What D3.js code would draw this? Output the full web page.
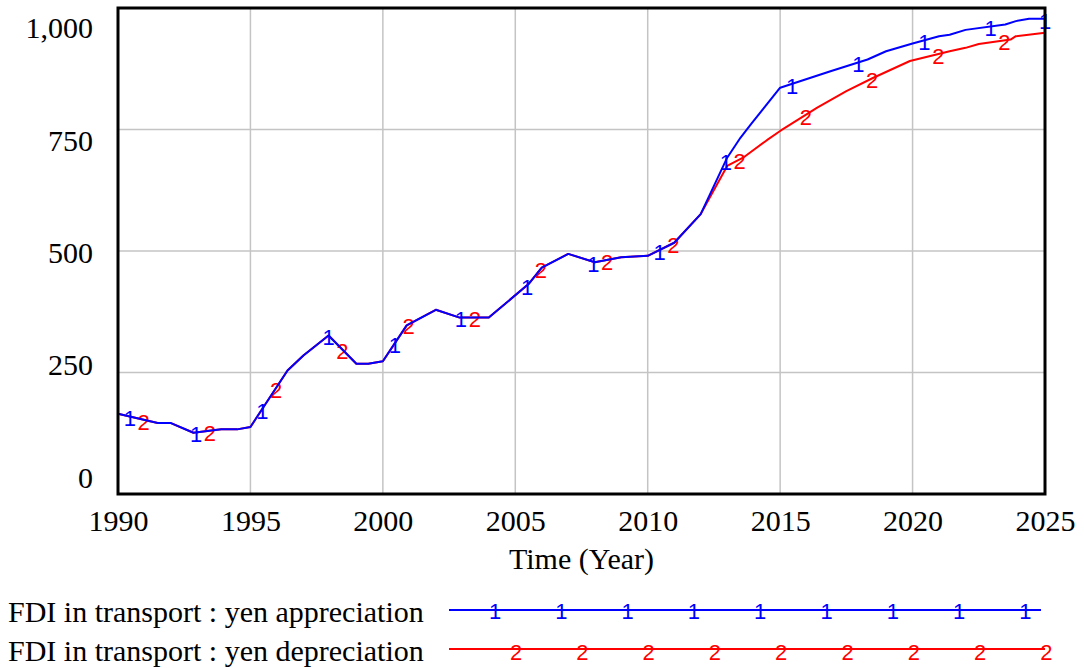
<!DOCTYPE html>
<html>
<head>
<meta charset="utf-8">
<script src="https://cdn.jsdelivr.net/npm/d3@7"></script>
<style>
  html, body { margin: 0; padding: 0; background: #fff; }
  svg { display: block; }
</style>
</head>
<body>
<svg id="chart" width="1084" height="668"></svg>
<script>
// ---- data ----
const yTickValues = [0, 250, 500, 750, 1000];
const xTickValues = [1990, 1995, 2000, 2005, 2010, 2015, 2020, 2025];

const appreciationTime = [1990, 1991.5, 1992, 1992.85, 1993.9, 1994.5, 1995, 1996.4, 1997, 1997.95,
  1999, 1999.45, 2000, 2000.9, 2002, 2002.9, 2004, 2005.5, 2006, 2007,
  2008, 2009, 2010, 2011, 2012, 2013, 2013.5, 2013.9, 2015, 2016.9,
  2018.3, 2019, 2020, 2021, 2021.4, 2022, 2023.5, 2023.9, 2024.4, 2025];
const appreciationValue = [165, 146, 146, 126, 133, 133, 138, 254, 285, 326,
  268, 268, 273, 347, 379, 363, 363, 432, 466, 494,
  477, 487, 490, 517, 576, 692, 733, 761, 836, 870,
  894, 911, 927, 942, 945, 955, 966, 973, 978, 978];

const depreciationTime = [1990, 1991.5, 1992, 1992.85, 1993.9, 1994.5, 1995, 1996.4, 1997, 1997.95,
  1999, 1999.45, 2000, 2000.9, 2002, 2002.9, 2004, 2005.5, 2006, 2007,
  2008, 2009, 2010, 2011, 2012, 2013, 2013.6, 2014.5, 2015, 2016.4,
  2017.5, 2018.5, 2019.9, 2021.4, 2022, 2022.5, 2023.7, 2023.9, 2025];
const depreciationValue = [165, 146, 146, 126, 133, 133, 138, 254, 285, 326,
  268, 268, 273, 347, 379, 363, 363, 432, 466, 494,
  477, 487, 490, 517, 576, 675, 692, 728, 747, 795,
  829, 856, 891, 911, 918, 926, 935, 942, 949];

const seriesNames = ["FDI in transport : yen appreciation", "FDI in transport : yen depreciation"];
const seriesMarks = ["1", "2"];
const seriesColors = ["#0000ff", "#ff0000"];

// ---- layout ----
const svg = d3.select("#chart");
const L = 118, R = 1045, T = 8, B = 494;
const x = d3.scaleLinear().domain([1990, 2025]).range([L, R]);
const y = d3.scaleLinear().domain([0, 1000]).range([B, T]);
// Vensim spreads the value labels evenly, slightly off the grid lines
const yLab = d3.scaleLinear().domain([0, 1000]).range([477, 27.5]);

const serif = "'Liberation Serif', 'Times New Roman', serif";
const sans = "'Liberation Sans', Arial, sans-serif";

// grid
svg.append("g").selectAll("line.v")
  .data(xTickValues.filter(d => d > 1990 && d < 2025))
  .join("line")
  .attr("x1", d => x(d)).attr("x2", d => x(d))
  .attr("y1", T).attr("y2", B)
  .attr("stroke", "#c4c4c4").attr("stroke-width", 1.5);
svg.append("g").selectAll("line.h")
  .data(yTickValues.filter(d => d > 0 && d < 1000))
  .join("line")
  .attr("x1", L).attr("x2", R)
  .attr("y1", d => y(d)).attr("y2", d => y(d))
  .attr("stroke", "#c4c4c4").attr("stroke-width", 1.5);

// series
const series = [
  { t: depreciationTime, v: depreciationValue, i: 1, markStart: 1990.97, markEnd: false },
  { t: appreciationTime, v: appreciationValue, i: 0, markStart: 1990.45, markEnd: true }
];
const line = d3.line().x(d => x(d[0])).y(d => y(d[1]));

function interp(t, v, tt) {
  const s = d3.scaleLinear().domain(t).range(v);
  return s(tt);
}

series.forEach(s => {
  const pts = s.t.map((d, k) => [d, s.v[k]]);
  svg.append("path")
    .attr("d", line(pts))
    .attr("fill", "none")
    .attr("stroke", seriesColors[s.i])
    .attr("stroke-width", 2)
    .attr("stroke-linejoin", "round");
  const marks = d3.range(14).map(k => s.markStart + 2.5 * k);
  if (s.markEnd) marks.push(2025);
  svg.append("g").selectAll("text")
    .data(marks)
    .join("text")
    .attr("x", d => x(d))
    .attr("y", d => y(interp(s.t, s.v, d)))
    .attr("dy", "0.45em")
    .attr("text-anchor", "middle")
    .attr("font-family", sans)
    .attr("font-size", 22)
    .attr("fill", seriesColors[s.i])
    .text(seriesMarks[s.i]);
});

// frame
svg.append("rect")
  .attr("x", L).attr("y", T).attr("width", R - L).attr("height", B - T)
  .attr("fill", "none").attr("stroke", "#000").attr("stroke-width", 3);

// y axis labels
const yAxis = svg.append("g")
  .attr("transform", `translate(${L - 25},0)`)
  .call(d3.axisLeft(yLab).tickValues(yTickValues).tickFormat(d3.format(",")).tickSize(0).tickPadding(0));
yAxis.select(".domain").remove();
yAxis.selectAll("text")
  .attr("font-family", serif).attr("font-size", 30).attr("fill", "#000")
  .attr("dy", "0.34em");

// x axis labels
const xAxis = svg.append("g")
  .attr("transform", `translate(0,${B})`)
  .call(d3.axisBottom(x).tickValues(xTickValues).tickFormat(d3.format("d")).tickSize(0).tickPadding(0));
xAxis.select(".domain").remove();
xAxis.selectAll("text")
  .attr("font-family", serif).attr("font-size", 30).attr("fill", "#000")
  .attr("y", 37).attr("dy", 0);

svg.append("text")
  .attr("x", (L + R) / 2).attr("y", 569)
  .attr("text-anchor", "middle")
  .attr("font-family", serif).attr("font-size", 30)
  .text("Time (Year)");

// legend
const legendY = [610, 649];
const legendMarkStart = [495, 516];
[0, 1].forEach(i => {
  svg.append("text")
    .attr("x", 8).attr("y", legendY[i] + 12)
    .attr("font-family", serif).attr("font-size", 30)
    .text(seriesNames[i]);
  svg.append("line")
    .attr("x1", 449).attr("x2", i === 0 ? 1041 : 1045)
    .attr("y1", legendY[i]).attr("y2", legendY[i])
    .attr("stroke", seriesColors[i]).attr("stroke-width", 2);
  svg.append("g").selectAll("text")
    .data(d3.range(9).map(k => legendMarkStart[i] + 66.3 * k))
    .join("text")
    .attr("x", d => d).attr("y", legendY[i])
    .attr("dy", i === 0 ? "0.42em" : "0.5em")
    .attr("text-anchor", "middle")
    .attr("font-family", sans).attr("font-size", 22)
    .attr("fill", seriesColors[i])
    .text(seriesMarks[i]);
});
</script>
</body>
</html>
